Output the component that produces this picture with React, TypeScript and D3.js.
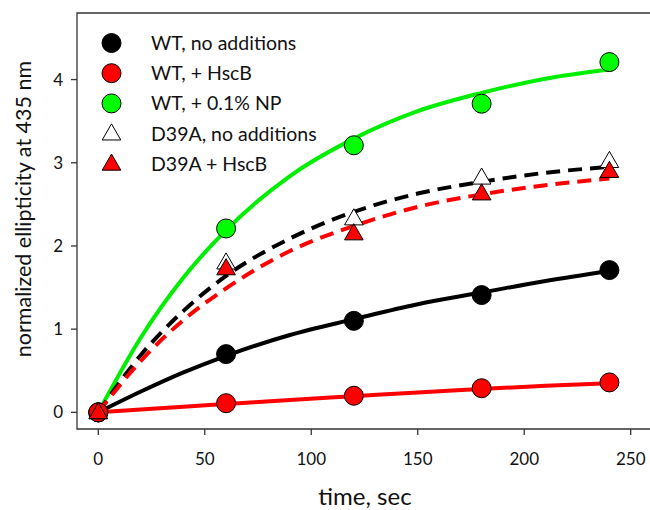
import React from "react";
import * as d3 from "d3";

// measured points
const times = [0, 60, 120, 180, 240];
const wtNone = [0, 0.7, 1.1, 1.41, 1.71];
const wtHscB = [0, 0.11, 0.2, 0.29, 0.36];
const wtNP = [0, 2.21, 3.21, 3.71, 4.21];
const d39aNone = [0, 1.8, 2.33, 2.82, 3.02];
const d39aHscB = [0, 1.73, 2.15, 2.63, 2.9];

// fitted curves
const fitT = [0, 20, 40, 60, 90, 120, 150, 180, 210, 240];
const fitWtNone = [0, 0.25, 0.48, 0.68, 0.93, 1.12, 1.3, 1.44, 1.58, 1.7];
const fitWtHscB = [0, 0.035, 0.068, 0.1, 0.15, 0.195, 0.24, 0.28, 0.32, 0.35];
const fitWtNP = [0, 0.9, 1.62, 2.19, 2.84, 3.29, 3.62, 3.84, 4.01, 4.12];
const fitD39aNone = [0, 0.69, 1.22, 1.64, 2.09, 2.41, 2.63, 2.77, 2.88, 2.95];
const fitD39aHscB = [0, 0.62, 1.11, 1.49, 1.94, 2.24, 2.47, 2.62, 2.73, 2.81];

const xTicks = [0, 50, 100, 150, 200, 250];
const yTicks = [0, 1, 2, 3, 4];

const legendLabels = [
  "WT, no additions",
  "WT, + HscB",
  "WT, + 0.1% NP",
  "D39A, no additions",
  "D39A + HscB",
];

const FONT = "Lato, 'Open Sans', sans-serif";

const series = [
  { pts: wtNone, fit: fitWtNone, shape: "circle", fill: "#000000", stroke: "#000000", dash: null },
  { pts: wtHscB, fit: fitWtHscB, shape: "circle", fill: "#ff0000", stroke: "#ff0000", dash: null },
  { pts: wtNP, fit: fitWtNP, shape: "circle", fill: "#00ff00", stroke: "#00ee00", dash: null },
  { pts: d39aNone, fit: fitD39aNone, shape: "triangle", fill: "#ffffff", stroke: "#000000", dash: "14 8" },
  { pts: d39aHscB, fit: fitD39aHscB, shape: "triangle", fill: "#ff0000", stroke: "#ff0000", dash: "14 8" },
];

function Marker({ shape, fill, x, y }: { shape: string; fill: string; x: number; y: number }) {
  if (shape === "circle") {
    return <circle cx={x} cy={y} r={9.5} fill={fill} stroke="#000" strokeWidth={1} />;
  }
  const tri = d3.symbol().type(d3.symbolTriangle).size(150)();
  return <path d={tri || ""} transform={`translate(${x},${y + 1})`} fill={fill} stroke="#000" strokeWidth={1} />;
}

export default function App() {
  const width = 650;
  const height = 510;
  const left = 77;
  const right = 652;
  const top = 13;
  const bottom = 429;

  const x = d3.scaleLinear().domain([-10, 260]).range([left, right]);
  const y = d3.scaleLinear().domain([-0.2, 4.8]).range([bottom, top]);

  const line = d3
    .line<number>()
    .x((_, i) => x(fitT[i]))
    .y((d) => y(d))
    .curve(d3.curveMonotoneX);

  // draw order for points: green under everything at origin
  const pointOrder = [2, 0, 1, 3, 4];

  return (
    <svg width={width} height={height} style={{ position: "absolute", left: 0, top: 0 }}>
      <rect width={width} height={height} fill="#fff" />

      {/* frame */}
      <path
        d={`M${right},${top}H${left}V${bottom}H${right}`}
        fill="none"
        stroke="#333"
        strokeWidth={1.3}
      />

      {/* x ticks */}
      {xTicks.map((t) => (
        <g key={`xt${t}`}>
          <line x1={x(t)} x2={x(t)} y1={bottom} y2={bottom + 6} stroke="#333" strokeWidth={1.3} />
          <text x={x(t)} y={465} textAnchor="middle" fontFamily={FONT} fontSize={17} fill="#111">
            {t}
          </text>
        </g>
      ))}

      {/* y ticks */}
      {yTicks.map((t) => (
        <g key={`yt${t}`}>
          <line x1={left - 6} x2={left} y1={y(t)} y2={y(t)} stroke="#333" strokeWidth={1.3} />
          <text x={63} y={y(t) + 6} textAnchor="end" fontFamily={FONT} fontSize={17} fill="#111">
            {t}
          </text>
        </g>
      ))}

      <text x={365} y={505} textAnchor="middle" fontFamily={FONT} fontSize={24} fill="#111">
        time, sec
      </text>
      <text
        transform={`translate(31,209) rotate(-90)`}
        textAnchor="middle"
        fontFamily={FONT}
        fontSize={21.5}
        fill="#111"
      >
        normalized ellipticity at 435 nm
      </text>

      {/* fit lines */}
      {series.map((s, i) => (
        <path
          key={`l${i}`}
          d={line(s.fit) || ""}
          fill="none"
          stroke={s.stroke}
          strokeWidth={4}
          strokeDasharray={s.dash || undefined}
        />
      ))}

      {/* points */}
      {pointOrder.map((si) =>
        series[si].pts.map((v, j) => (
          <Marker key={`p${si}-${j}`} shape={series[si].shape} fill={series[si].fill} x={x(times[j])} y={y(v)} />
        ))
      )}

      {/* legend */}
      {legendLabels.map((lab, i) => (
        <g key={`lg${i}`}>
          <Marker shape={series[i].shape} fill={series[i].fill} x={111.5} y={43 + i * 30.2} />
          <text x={151} y={50 + i * 30.2} fontFamily={FONT} fontSize={19.5} fill="#111">
            {lab}
          </text>
        </g>
      ))}
    </svg>
  );
}
